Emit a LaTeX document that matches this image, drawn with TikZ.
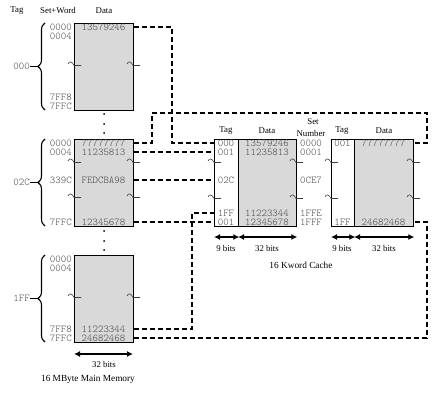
\documentclass[tikz,border=0pt]{standalone}
\usepackage{fontspec}
\setmainfont{Liberation Serif}
\newfontfamily\hexfont{Latin Modern Mono Light}
\usetikzlibrary{decorations.pathreplacing, arrows.meta}

\begin{document}
\begin{tikzpicture}[x=1pt, y=-1pt,
  hex/.style={font=\hexfont\fontsize{10.4}{11}\selectfont, text=black!72, inner sep=0pt},
  lbl/.style={font=\fontsize{8.8}{10}\selectfont, inner sep=0pt},
  big/.style={font=\fontsize{9.3}{10}\selectfont, inner sep=0pt},
  membox/.style={draw=black, line width=1.3pt, fill=black!15, minimum width=59pt, minimum height=87pt, anchor=north west, inner sep=0pt},
  tagbox/.style={draw=black, line width=1.3pt, fill=white, minimum height=87pt, anchor=north west, inner sep=0pt},
  databox/.style={draw=black, line width=1.3pt, fill=black!15, minimum height=87pt, anchor=north west, inner sep=0pt},
  link/.style={dash pattern=on 5pt off 3pt, line width=1.2pt},
  span/.style={{Latex[length=6pt,width=6pt]}-{Latex[length=6pt,width=6pt]}, line width=1.4pt},
  brc/.style={decorate, decoration={brace, amplitude=7pt}, line width=1.1pt},
  dot/.style={circle, fill=black, inner sep=0pt, minimum size=2pt},
  cut/.pic={\draw[line width=0.6pt, black!75] (-6,0) .. controls (-5,-3) and (-2,-3) .. (0,1.5) -- (7,1.5);}
]
\useasboundingbox (0,0) rectangle (442,401);

% ---------- main memory ----------
\node[lbl] (hTag) at (17,11) {Tag};
\node[lbl] (hSW) at (58,11) {Set+Word};
\node[lbl] (hData) at (104,11) {Data};

\node[membox] (m1) at (74,23) {};
\node[membox] (m2) at (74,139) {};
\node[membox] (m3) at (74,255) {};

% block 000
\node[hex, anchor=east] (m1a0) at (72,27) {0000};
\node[hex, anchor=east] (m1a1) at (72,36) {0004};
\node[hex, anchor=east] (m1a2) at (72,97) {7FF8};
\node[hex, anchor=east] (m1a3) at (72,106) {7FFC};
\node[hex] (m1d0) at (103.5,27) {13579246};
\pic at (74,64) {cut};
\pic at (133,64) {cut};

% block 02C
\node[hex, anchor=east] (m2a0) at (72,143) {0000};
\node[hex, anchor=east] (m2a1) at (72,152) {0004};
\node[hex, anchor=east] (m2a2) at (72,180) {339C};
\node[hex, anchor=east] (m2a3) at (72,222) {7FFC};
\node[hex] (m2d0) at (103.5,143) {77777777};
\node[hex] (m2d1) at (103.5,152) {11235813};
\node[hex] (m2d2) at (103.5,180) {FEDCBA98};
\node[hex] (m2d3) at (103.5,222) {12345678};
\pic at (74,161) {cut};
\pic at (133,161) {cut};
\pic at (74,196) {cut};
\pic at (133,196) {cut};

% block 1FF
\node[hex, anchor=east] (m3a0) at (72,259) {0000};
\node[hex, anchor=east] (m3a1) at (72,268) {0004};
\node[hex, anchor=east] (m3a2) at (72,329) {7FF8};
\node[hex, anchor=east] (m3a3) at (72,338) {7FFC};
\node[hex] (m3d2) at (103.5,329) {11223344};
\node[hex] (m3d3) at (103.5,338) {24682468};
\pic at (74,296) {cut};
\pic at (133,296) {cut};

% braces and tags
\draw[brc] (45,110) -- (45,23);
\draw[brc] (45,226) -- (45,139);
\draw[brc] (45,342) -- (45,255);
\coordinate (b1) at (38,66.5);
\coordinate (b2) at (38,182.5);
\coordinate (b3) at (38,298.5);
\node[hex, anchor=east] (t1) at (30,66.5) {000};
\node[hex, anchor=east] (t2) at (30,182.5) {02C};
\node[hex, anchor=east] (t3) at (30,298.5) {1FF};
\draw[line width=1.1pt] (t1.east) -- (b1);
\draw[line width=1.1pt] (t2.east) -- (b2);
\draw[line width=1.1pt] (t3.east) -- (b3);

% continuation dots
\foreach \y [count=\i] in {114,124,133,231,241,250}
  \node[dot] (dt\i) at (104,\y) {};

% width of main memory
\coordinate (mwl) at (74,354);
\coordinate (mwr) at (133,354);
\draw[span] (mwl) -- (mwr);
\node[lbl] (mw) at (104,364) {32 bits};
\node[big] (mcap) at (88,379) {16 MByte Main Memory};

% ---------- cache ----------
\node[tagbox, minimum width=24pt] (c1t) at (214,139) {};
\node[databox, minimum width=58pt] (c1d) at (238,139) {};
\node[tagbox, minimum width=23pt] (c2t) at (331,139) {};
\node[databox, minimum width=59pt] (c2d) at (354,139) {};

\node[lbl] (ch1) at (226,131) {Tag};
\node[lbl] (ch2) at (267,131) {Data};
\node[lbl] (ch3) at (313,122) {Set};
\node[lbl] (ch4) at (311,133) {Number};
\node[lbl] (ch5) at (342,131) {Tag};
\node[lbl] (ch6) at (384,131) {Data};

\node[hex] (c1r0) at (226,143) {000};
\node[hex] (c1r1) at (226,152) {001};
\node[hex] (c1r2) at (226,180) {02C};
\node[hex] (c1r3) at (226,213) {1FF};
\node[hex] (c1r4) at (226,222) {001};
\node[hex] (c1e0) at (267,143) {13579246};
\node[hex] (c1e1) at (267,152) {11235813};
\node[hex] (c1e3) at (267,213) {11223344};
\node[hex] (c1e4) at (267,222) {12345678};

\node[hex] (s0) at (311,143) {0000};
\node[hex] (s1) at (311,152) {0001};
\node[hex] (s2) at (311,180) {0CE7};
\node[hex] (s3) at (311,213) {1FFE};
\node[hex] (s4) at (311,222) {1FFF};

\node[hex] (c2r0) at (342.5,143) {001};
\node[hex] (c2r4) at (342.5,222) {1FF};
\node[hex] (c2e0) at (383.5,143) {77777777};
\node[hex] (c2e4) at (383.5,222) {24682468};

\foreach \x in {214,296,331,413} {
  \pic at (\x,161) {cut};
  \pic at (\x,197) {cut};
}

% widths of cache fields
\draw[span] (c1t.west |- 0,237) -- (c1t.east |- 0,237);
\draw[span] (c1d.west |- 0,237) -- (c1d.east |- 0,237);
\draw[span] (c2t.west |- 0,237) -- (c2t.east |- 0,237);
\draw[span] (c2d.west |- 0,237) -- (c2d.east |- 0,237);
\node[lbl] (w1) at (226,248) {9 bits};
\node[lbl] (w2) at (267,248) {32 bits};
\node[lbl] (w3) at (342,248) {9 bits};
\node[lbl] (w4) at (384,248) {32 bits};
\node[big] (ccap) at (301,265) {16 Kword Cache};

% ---------- mapping lines ----------
\coordinate (k1) at (172,0);
\coordinate (k2) at (152,113);
\coordinate (k3) at (427,113);
\coordinate (k4) at (192,0);

\draw[link] (m1.east |- m1d0) -| (k1 |- c1r0) -- (c1t.west |- c1r0);
\draw[link] (m2.east |- m2d0) -| (k2) -- (k3) |- (c2d.east |- c2e0);
\draw[link] (m2.east |- m2d1) -- (c1t.west |- c1r1);
\draw[link] (m2.east |- m2d2) -- (c1t.west |- c1r2);
\draw[link] (m2.east |- m2d3) -- (c1t.west |- c1r4);
\draw[link] (m3.east |- m3d2) -| (k4 |- c1r3) -- (c1t.west |- c1r3);
\draw[link] (m3.east |- m3d3) -| (k3 |- c2e4) -- (c2d.east |- c2e4);

\end{tikzpicture}
\end{document}
